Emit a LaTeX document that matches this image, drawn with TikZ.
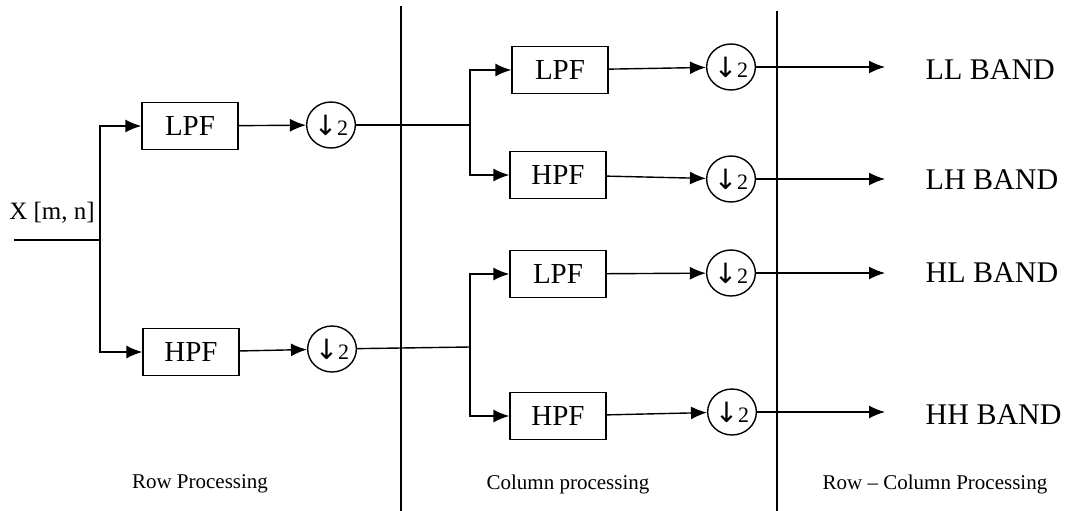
\documentclass[tikz,border=0pt]{standalone}
\usepackage{fontspec}
\setmainfont{Liberation Serif}
\newfontfamily\arrowfont{DejaVu Sans}
\usetikzlibrary{arrows.meta}
\usetikzlibrary{shapes.geometric}
\newcommand{\dsym}{{\arrowfont\fontsize{28}{30}\selectfont ↓}2}

\begin{document}
\begin{tikzpicture}[x=1pt,y=-1pt,line width=1.4pt,
  >={Latex[length=16pt,width=13pt]},
  filt/.style={draw,minimum width=96pt,minimum height=47pt,inner sep=0pt,font=\fontsize{29}{31}\selectfont},
  dsmp/.style={draw,ellipse,minimum width=43pt,minimum height=46pt,inner sep=0pt,font=\fontsize{22}{24}\selectfont},
  band/.style={anchor=west,inner sep=0pt,font=\fontsize{30}{32}\selectfont},
  lbl/.style={inner sep=0pt,font=\fontsize{21}{24}\selectfont}]
\useasboundingbox (0,0) rectangle (1092,511);

%%%%%%%%%%   row processing
\node[lbl,font=\fontsize{25}{27}\selectfont] (xin) at (52,213) {X [m, n]};
\coordinate (in) at (14,240);
\coordinate (sp) at (100,240);
\node[filt] (lpf) at (190,126) {LPF};
\node[filt] (hpf) at (191,352) {HPF};
\node[dsmp] (dl) at (331,125) {\dsym};
\node[dsmp] (dh) at (332,349) {\dsym};

\draw (in) -- (sp);
\draw[->] (sp) |- (lpf.west);
\draw[->] (sp) |- (hpf.west);
\draw[->] (lpf) -- (dl);
\draw[->] (hpf) -- (dh);

%%%%%%%%%%   column processing
\coordinate (ct) at (470,125);
\coordinate (cb) at (470,347);
\node[filt] (lpfa) at (560,70) {LPF};
\node[filt] (hpfa) at (558,175) {HPF};
\node[filt] (lpfb) at (558,274) {LPF};
\node[filt] (hpfb) at (558,416) {HPF};
\node[dsmp] (da) at (731,67) {\dsym};
\node[dsmp] (db) at (731,179) {\dsym};
\node[dsmp] (dc) at (731,273) {\dsym};
\node[dsmp] (dd) at (732,412) {\dsym};

\draw (dl) -- (ct);
\draw[->] (ct) |- (lpfa.west);
\draw[->] (ct) |- (hpfa.west);
\draw (dh) -- (cb);
\draw[->] (cb) |- (lpfb.west);
\draw[->] (cb) |- (hpfb.west);
\draw[->] (lpfa) -- (da);
\draw[->] (hpfa) -- (db);
\draw[->] (lpfb) -- (dc);
\draw[->] (hpfb) -- (dd);

%%%%%%%%%%   sub-bands
\node[band] (ll) at (925,70) {LL BAND};
\node[band] (lh) at (925,180) {LH BAND};
\node[band] (hl) at (925,273) {HL BAND};
\node[band] (hh) at (925,415) {HH BAND};
\coordinate (oa) at (885,67);
\coordinate (ob) at (885,179);
\coordinate (oc) at (885,273);
\coordinate (od) at (885,412);
\draw[->] (da) -- (oa);
\draw[->] (db) -- (ob);
\draw[->] (dc) -- (oc);
\draw[->] (dd) -- (od);

%%%%%%%%%%   stage separators
\coordinate (s1t) at (401,6);
\coordinate (s1b) at (401,511);
\coordinate (s2t) at (777,11);
\coordinate (s2b) at (777,511);
\draw (s1t) -- (s1b);
\draw (s2t) -- (s2b);

\node[lbl] (rowp) at (200,484) {Row Processing};
\node[lbl] (colp) at (568,484) {Column processing};
\node[lbl] (rcp) at (935,484) {Row -- Column Processing};
\end{tikzpicture}
\end{document}
